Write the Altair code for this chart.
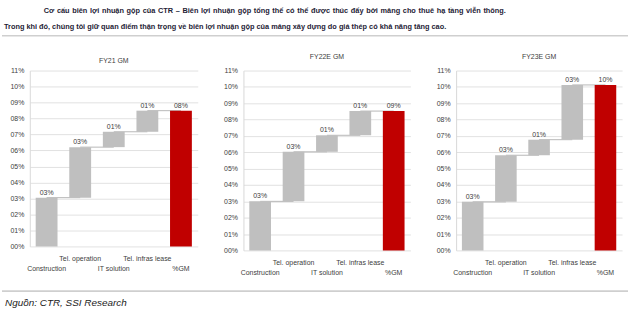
import math
import altair as alt
import pandas as pd

# ---------------- data ----------------
categories = ["Construction", "Tel. operation", "IT solution", "Tel. infras lease", "%GM"]
panel_titles = ["FY21 GM", "FY22E GM", "FY23E GM"]
fy21_steps = [3.05, 3.16, 0.96, 1.32]
fy22_steps = [3.00, 3.03, 1.01, 1.48]
fy23_steps = [2.97, 2.85, 0.95, 3.35]
y_ticks = list(range(0, 12))

header_line1 = "Cơ cấu biên lợi nhuận gộp của CTR – Biên lợi nhuận gộp tổng thể có thể được thúc đẩy bởi mảng cho thuê hạ tầng viễn thông."
header_line2 = "Trong khi đó, chúng tôi giữ quan điểm thận trọng về biên lợi nhuận gộp của mảng xây dựng do giá thép có khả năng tăng cao."
source_note = "Nguồn: CTR, SSI Research"

FONT = "Liberation Sans Narrow, Liberation Sans, Arial, sans-serif"
HEAD_COLOR = "#1e2235"
GREY_BAR = "#bfbfbf"
RED_BAR = "#c00000"
GRID = "#d9d9d9"
TXT = "#404040"


def pct_label(v):
    return f"{int(math.floor(v + 0.5)):02d}%"


def waterfall(steps):
    rows, conns = [], []
    cum = 0.0
    for i, (cat, v) in enumerate(zip(categories[:-1], steps)):
        rows.append(dict(cat=cat, start=cum, end=cum + v, lbl=pct_label(v), kind="step"))
        cum += v
        conns.append(dict(cat=cat, cat2=categories[i + 1], yv=cum))
    rows.append(dict(cat=categories[-1], start=0.0, end=cum, lbl=pct_label(cum), kind="total"))
    return pd.DataFrame(rows), pd.DataFrame(conns)


upper_row = "datum.value == 'Tel. operation' || datum.value == 'Tel. infras lease'"


def panel(steps, title, width, height, title_offset):
    df, conn = waterfall(steps)
    xscale = alt.Scale(domain=categories, paddingInner=0.35, paddingOuter=0.175)
    xaxis = alt.Axis(
        title=None, labelAngle=0, ticks=False, domain=False,
        labelExpr=f"({upper_row}) ? datum.value : ['', datum.value]",
        labelPadding=8, labelLineHeight=10, labelOverlap=False, labelBound=False,
        labelFontSize=7, labelColor=TXT, labelFont=FONT, labelBaseline="top",
    )
    yscale = alt.Scale(domain=[0, 11], nice=False, zero=True)
    yaxis = alt.Axis(
        title=None, values=y_ticks, labelExpr="format(datum.value, '02.0f') + '%'",
        grid=True, gridColor=GRID, gridWidth=0.8, domainColor=GRID, ticks=False,
        labelPadding=6, labelFontSize=7, labelColor=TXT, labelFont=FONT,
    )
    x = alt.X("cat:N", scale=xscale, axis=xaxis, sort=categories)

    connectors = alt.Chart(conn).mark_rule(color="#a6a6a6", strokeWidth=0.8).encode(
        x=x, x2="cat2:N", y=alt.Y("yv:Q", scale=yscale, axis=yaxis)
    )
    bars = alt.Chart(df).mark_bar().encode(
        x=x,
        y=alt.Y("start:Q", scale=yscale, axis=yaxis),
        y2="end:Q",
        color=alt.Color("kind:N", scale=alt.Scale(domain=["step", "total"], range=[GREY_BAR, RED_BAR]), legend=None),
    )
    labels = alt.Chart(df).mark_text(dy=-2, baseline="bottom", fontSize=7, color=TXT, font=FONT).encode(
        x=x, y=alt.Y("end:Q", scale=yscale, axis=yaxis), text="lbl:N"
    )
    return alt.layer(connectors, bars, labels).properties(
        width=width, height=height,
        title=alt.TitleParams(title, fontSize=7, font=FONT, color=TXT, fontWeight="normal", offset=title_offset, anchor="middle"),
    )


p1 = panel(fy21_steps, panel_titles[0], 169, 177, 3)
p2 = panel(fy22_steps, panel_titles[1], 168, 181, 7)
p3 = panel(fy23_steps, panel_titles[2], 167, 181, 7)
panels = alt.hconcat(p1, p2, p3, spacing=24)

# header
HEAD_SIZE = 7.4
line1_spread = "\u200a ".join(header_line1.split(" "))
head1 = alt.Chart(pd.DataFrame({"t": [line1_spread]})).mark_text(
    align="left", baseline="middle", fontSize=HEAD_SIZE, fontWeight="bold", font=FONT, color=HEAD_COLOR
).encode(x=alt.value(14), y=alt.value(9), text="t:N")
head2 = alt.Chart(pd.DataFrame({"t": [header_line2]})).mark_text(
    align="left", baseline="middle", fontSize=HEAD_SIZE, fontWeight="bold", font=FONT, color=HEAD_COLOR
).encode(x=alt.value(-26), y=alt.value(25), text="t:N")
head_rule = alt.Chart(pd.DataFrame({"a": [0]})).mark_rule(color="#cfcfcf", strokeWidth=1.6).encode(
    x=alt.value(-28), x2=alt.value(602), y=alt.value(34)
)
header = alt.layer(head_rule, head1, head2).properties(width=580, height=39)

# footer
foot_rule = alt.Chart(pd.DataFrame({"a": [0]})).mark_rule(color="#cfcfcf", strokeWidth=1.6).encode(
    x=alt.value(-28), x2=alt.value(602), y=alt.value(4)
)
foot_text = alt.Chart(pd.DataFrame({"t": [source_note]})).mark_text(
    align="left", baseline="middle", fontSize=10, fontStyle="italic", font=FONT, color="#222222"
).encode(x=alt.value(-25), y=alt.value(16), text="t:N")
footer = alt.layer(foot_rule, foot_text).properties(width=580, height=22)

chart = alt.vconcat(header, panels, footer, spacing=10).properties(
    padding={"left": 0, "top": 0, "right": 0, "bottom": 0},
    background="white",
).configure_view(stroke="transparent")

chart.save("out.html", embed_options={"renderer": "svg", "actions": False})
